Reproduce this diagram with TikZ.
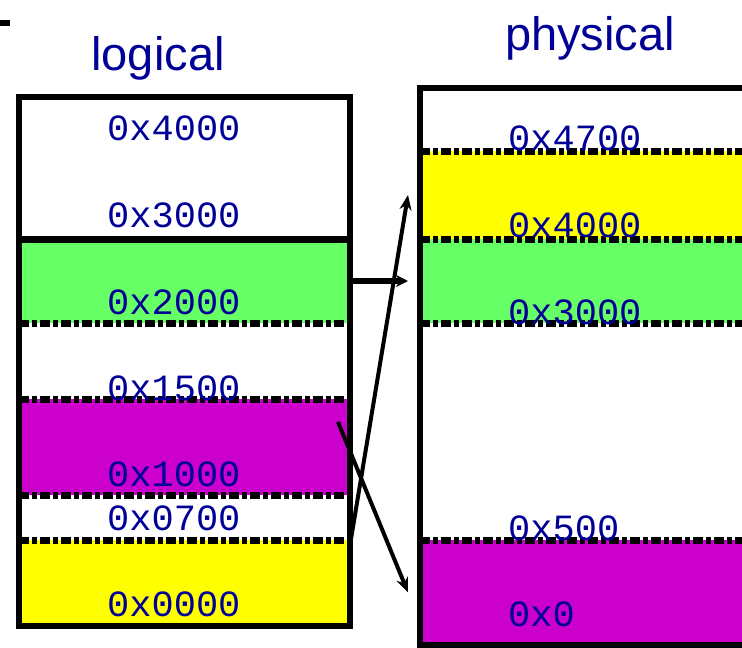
\documentclass[tikz,border=0pt]{standalone}
\usepackage{fontspec}
\setmainfont{Liberation Sans}
\newfontfamily\addrfont{Liberation Mono}
\usetikzlibrary{positioning,arrows.meta}
\definecolor{addrblue}{RGB}{0,0,150}
\definecolor{segyellow}{RGB}{255,255,0}
\definecolor{seggreen}{RGB}{102,255,102}
\definecolor{segmagenta}{RGB}{204,0,204}
\tikzset{
  seg/.style={
    rectangle,
    inner sep=0pt,
    outer sep=0pt,
    anchor=north west
  },
  lseg/.style={seg, minimum width=331pt},
  pseg/.style={seg, minimum width=340pt},
  frame/.style={draw=black, line width=6pt},
  split/.style={draw=black, line width=7pt, dash pattern=on 10pt off 3pt on 5pt off 3pt},
  addr/.style={font={\addrfont\fontsize{37}{37}\selectfont}, text=addrblue, anchor=west, inner sep=0pt},
  title/.style={font=\fontsize{47}{47}\selectfont, text=addrblue, anchor=base, inner sep=0pt},
  arrow/.style={-{Stealth[length=15pt,width=12pt]}, line width=4pt, draw=black}
}
\begin{document}
\begin{tikzpicture}[x=1pt, y=-1pt, node distance=0pt]
\useasboundingbox (0,0) rectangle (742,648);
\clip (0,0) rectangle (742,648);

% Logical address space
\node[lseg, fill=white, minimum height=142pt] (l1) at (19,97) {};
\node[lseg, fill=seggreen, minimum height=84pt, below=of l1] (l2) {};
\node[lseg, fill=white, minimum height=76pt, below=of l2] (l3) {};
\node[lseg, fill=segmagenta, minimum height=96pt, below=of l3] (l4) {};
\node[lseg, fill=white, minimum height=45pt, below=of l4] (l5) {};
\node[lseg, fill=segyellow, minimum height=86pt, below=of l5] (l6) {};

% Physical memory
\node[pseg, fill=white, minimum height=63pt] (p1) at (420,88) {};
\node[pseg, fill=segyellow, minimum height=88pt, below=of p1] (p2) {};
\node[pseg, fill=seggreen, minimum height=84pt, below=of p2] (p3) {};
\node[pseg, fill=white, minimum height=217pt, below=of p3] (p4) {};
\node[pseg, fill=segmagenta, minimum height=105pt, below=of p4] (p5) {};

% Segment borders
\draw[frame, line width=7pt] (l1.south west) -- (l1.south east);
\foreach \s in {l2, l3, l4, l5, p1, p2, p3, p4} {
  \draw[split] (\s.south west) -- (\s.south east);
}
\draw[frame] (l1.north west) rectangle (l6.south east);
\draw[frame] (p1.north west) rectangle (p5.south east);
\fill (0,20) rectangle (10,26);

% Titles
\node[title] (logical) at (158,70) {logical};
\node[title] (physical) at (590,50) {physical};

% Addresses
\foreach \y/\a in {128/0x4000, 215/0x3000, 302/0x2000, 388/0x1500,
                   474/0x1000, 518/0x0700, 604/0x0000} {
  \node[addr] (l\a) at (107,\y) {\a};
}
\foreach \y/\a in {138/0x4700, 225/0x4000, 312/0x3000, 528/0x500, 614/0x0} {
  \node[addr] (p\a) at (508,\y) {\a};
}

% Mappings
\draw[arrow, line width=6pt, -{Stealth[length=12pt,width=12pt]}] (l2.east) -- ([xshift=-12pt]p3.west);
\draw[arrow] ([yshift=-5pt]l6.north east) -- ([xshift=-12pt]p2.west);
\coordinate (mstart) at ([shift={(-12pt,-23pt)}]l4.north east);
\draw[arrow] (mstart) -- ([xshift=-12pt]p5.west);

\end{tikzpicture}
\end{document}
